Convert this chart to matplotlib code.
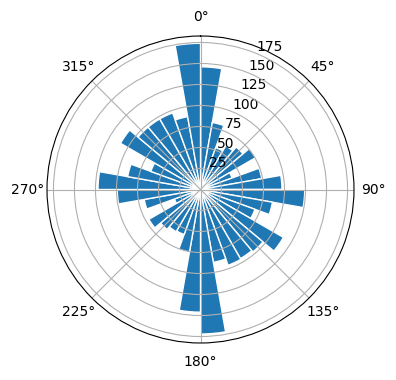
import numpy as np
import matplotlib
matplotlib.use("Agg")
import matplotlib.pyplot as plt

# direction bins (degrees, centre of each 10 degree sector) and counts
directions = np.arange(5, 360, 10)
counts = [146, 81, 53, 60, 66, 76, 40, 74, 97,
          124, 87, 69, 114, 97, 95, 96, 88, 172,
          146, 76, 57, 58, 62, 71, 33, 68, 99,
          122, 88, 63, 110, 97, 97, 97, 88, 174]

fig = plt.figure(figsize=(3.96, 3.8), dpi=100)
ax = fig.add_axes([47 / 396, 37 / 380, 307 / 396, 307 / 380], projection="polar")
ax.set_theta_zero_location("N")
ax.set_theta_direction(-1)

ax.bar(np.deg2rad(directions), counts, width=np.deg2rad(10),
       color="#1f77b4", edgecolor="white", linewidth=1)
ax.grid(True)

fig.savefig("out.png", dpi=100)
